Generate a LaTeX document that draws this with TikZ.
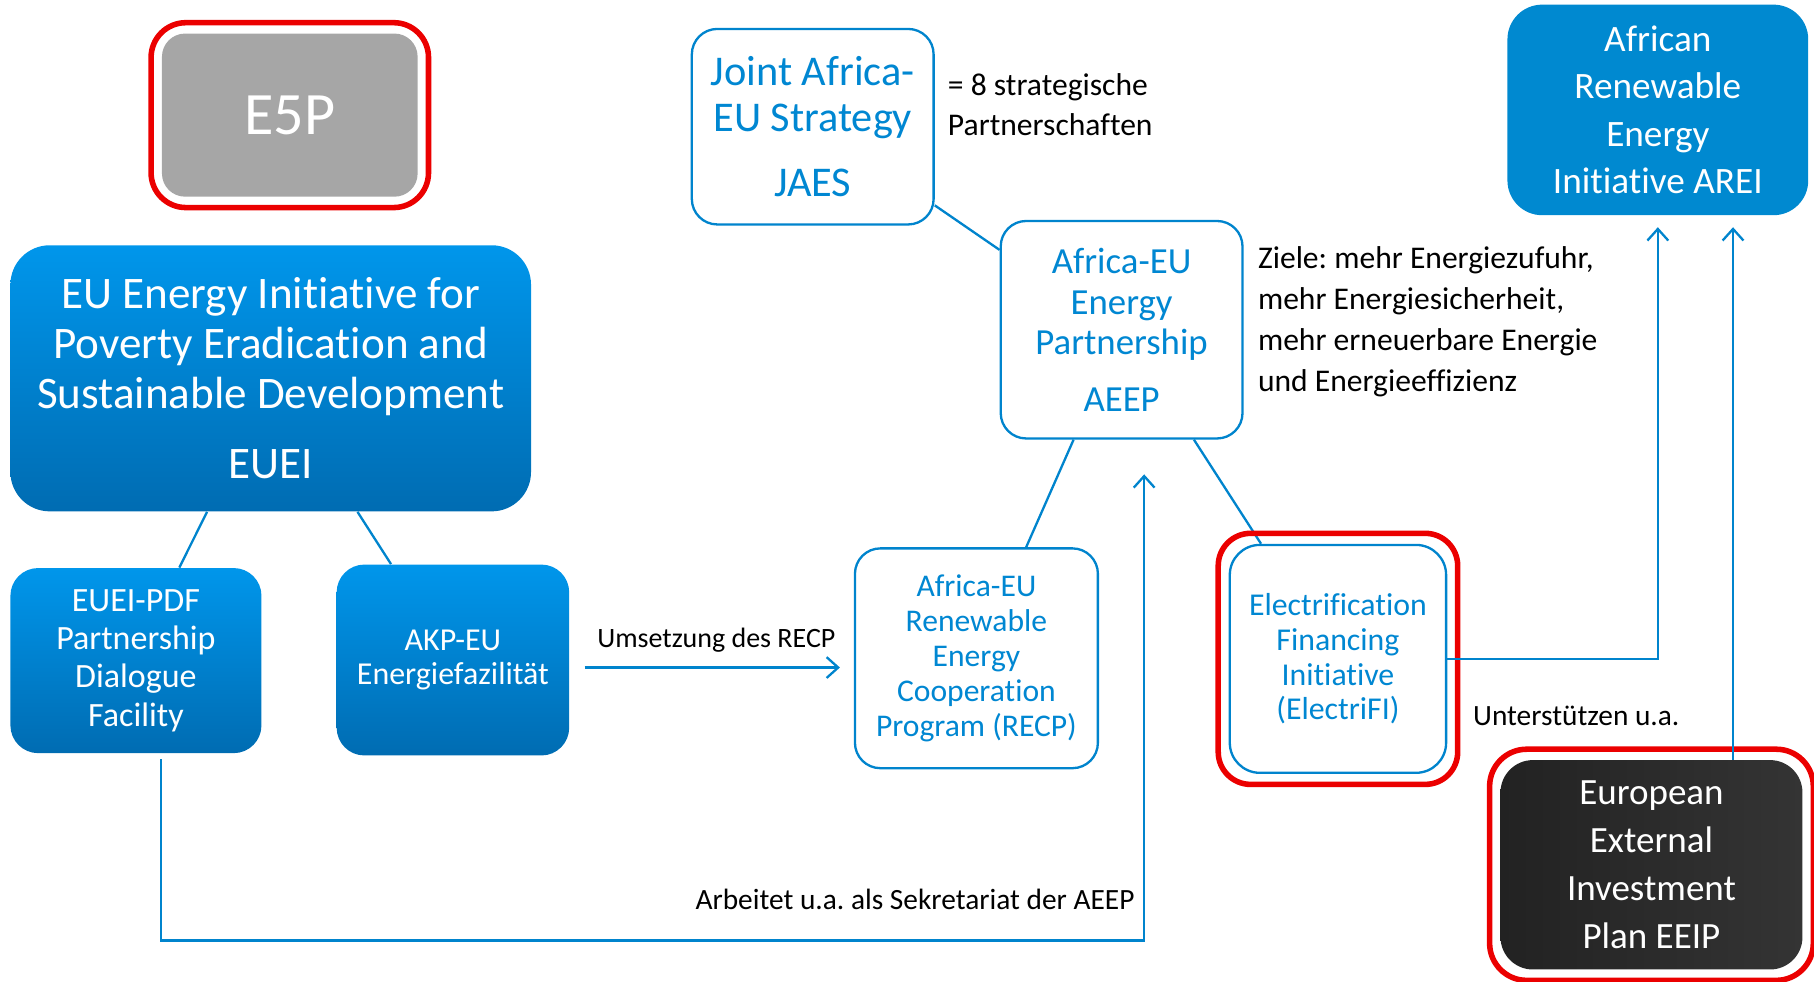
\documentclass[tikz,border=0pt]{standalone}
\usepackage{fontspec}
\setmainfont{Carlito}[Ligatures=NoCommon]
\definecolor{linkblue}{RGB}{0,132,205}
\definecolor{textblue}{RGB}{0,135,210}
\definecolor{boxtop}{RGB}{0,150,235}
\definecolor{boxbottom}{RGB}{0,108,178}
\definecolor{areiblue}{RGB}{0,137,208}
\definecolor{eeipdark}{RGB}{34,34,34}
\definecolor{eeiplight}{RGB}{52,52,52}
\definecolor{e5pgray}{RGB}{166,166,166}
\definecolor{framered}{RGB}{235,0,0}
\usetikzlibrary{arrows.meta, positioning, calc, fit}
\newcommand{\fsz}[2]{\fontsize{#1}{#2}\selectfont}
\frenchspacing

\begin{document}
\begin{tikzpicture}[
  x=0.5pt, y=-0.5pt,
  gradbox/.style={rounded corners=12pt, top color=boxtop, bottom color=boxbottom,
                  text=white, align=center, inner sep=0pt},
  outlinebox/.style={draw=linkblue, line width=1pt, fill=white, rounded corners=11pt,
                     text=textblue, align=center, inner sep=0pt},
  redframe/.style={draw=framered, line width=2.4pt, rounded corners=15pt, inner sep=4.5pt},
  link/.style={draw=linkblue, line width=1pt},
  arrow/.style={link, -{Straight Barb[length=5pt, width=9pt]}},
  note/.style={font=\fsz{12.7}{14}, inner sep=0pt},
]
\useasboundingbox (0,0) rectangle (1568,848);

% Left column
\node[rounded corners=10pt, fill=e5pgray, text=white, font=\fsz{26}{30},
      minimum width=110.5pt, minimum height=70.5pt] (e5p) at (250.5, 99.5) {E5P};
\node[redframe, fit=(e5p)] (e5pframe) {};

\node[gradbox, rounded corners=17pt, font=\fsz{19.5}{21.5},
      minimum width=225pt, minimum height=115pt] (euei) at (234, 327)
{EU Energy Initiative for\\Poverty Eradication and\\Sustainable Development\\[9pt]EUEI};

\node[gradbox, font=\fsz{14.7}{16.5}, minimum width=108.5pt, minimum height=80pt]
  (pdf) at (117.5, 571) {EUEI-PDF\\Partnership\\Dialogue\\Facility};
\node[gradbox, font=\fsz{13.8}{15}, minimum width=100.5pt, minimum height=82.5pt]
  (akp) at (391.5, 570.5) {AKP-EU\\Energiefazilität};

\draw[link] ($(euei.south)+(-55,0)$) -- ($(pdf.north)+(37.5,0)$);
\draw[link] ($(euei.south)+(75,0)$) -- ($(akp.north)+(-53.5,0)$);

% Middle column
\node[outlinebox, font=\fsz{18.3}{20}, minimum width=104.5pt, minimum height=84.5pt]
  (jaes) at (702.5, 109.5) {Joint Africa-\\EU Strategy\\[8pt]JAES};
\node[anchor=west, align=left, font=\fsz{13.65}{17.5}, inner sep=0pt] (jaesnote)
  at (819, 90.5) {= 8 strategische\\Partnerschaften};

\node[outlinebox, font=\fsz{15.9}{17.5}, minimum width=104.5pt, minimum height=94pt]
  (aeep) at (969.5, 285) {Africa-EU\\Energy\\Partnership\\[7pt]AEEP};
\node[anchor=west, align=left, font=\fsz{13.65}{17.75}, inner sep=0pt] (aeepnote)
  at (1087, 278)
{Ziele: mehr Energiezufuhr,\\mehr Energiesicherheit,\\mehr erneuerbare Energie\\und Energieeffizienz};

\node[outlinebox, font=\fsz{13.65}{15.2}, minimum width=105pt, minimum height=95pt]
  (recp) at (844, 569)
{Africa-EU\\Renewable\\Energy\\Cooperation\\Program (RECP)};

\node[outlinebox, rounded corners=13pt, font=\fsz{13.75}{15}, minimum width=93.5pt,
      minimum height=98.5pt] (elfi) at (1156.5, 569.5)
{Electrification\\Financing\\Initiative\\(ElectriFI)};

\draw[link] ($(jaes.east)+(0,68)$) -- ($(aeep.west)+(0,-69)$);
\draw[link] ($(aeep.south)+(-41.5,0)$) -- ($(recp.north)+(43,0)$);
\draw[link] ($(aeep.south)+(62.5,0)$) -- ($(elfi.north)+(-66.5,0)$);
\node[redframe, rounded corners=14pt, fit=(elfi)] (elfiframe) {};

\draw[arrow, shorten <=6.5pt, shorten >=6pt] ($(akp.east)+(0,6.5)$) -- ($(recp.west)+(0,8)$)
  node[midway, above=6pt, xshift=2pt, note, font=\fsz{12.1}{14}] (umsetzung) {Umsetzung des RECP};

% Right column
\node[rounded corners=15pt, fill=areiblue, text=white, align=center,
      font=\fsz{16.1}{20.5}, inner sep=0pt, minimum width=130pt, minimum height=91pt]
  (arei) at (1433, 95) {African\\Renewable\\Energy\\Initiative AREI};

\node[rounded corners=14pt, left color=eeipdark, right color=eeiplight, text=white,
      align=center, font=\fsz{16}{20.75}, inner sep=0pt, minimum width=130.5pt,
      minimum height=90.5pt] (eeip) at (1427.5, 747.5)
{European\\External\\Investment\\Plan EEIP};
\node[redframe, rounded corners=16pt, fit=(eeip)] (eeipframe) {};

\draw[arrow, shorten >=5pt] (elfi.east) -| (arei.south);
\draw[arrow, shorten >=5pt] ($(eeip.north)+(70.5,0)$) -- ($(arei.south)+(65,0)$);
\node[note, anchor=west] (unterst) at (1273, 619) {Unterstützen u.a.};

% Bottom loop
\draw[arrow, shorten <=2.5pt, shorten >=15pt] ($(pdf.south)+(21.5,0)$)
  |- ($(aeep.south)+(19.5,433)$) -- ($(aeep.south)+(19.5,0)$);
\node[note, anchor=east] (sekretariat) at (981, 777) {Arbeitet u.a. als Sekretariat der AEEP};
\end{tikzpicture}
\end{document}
